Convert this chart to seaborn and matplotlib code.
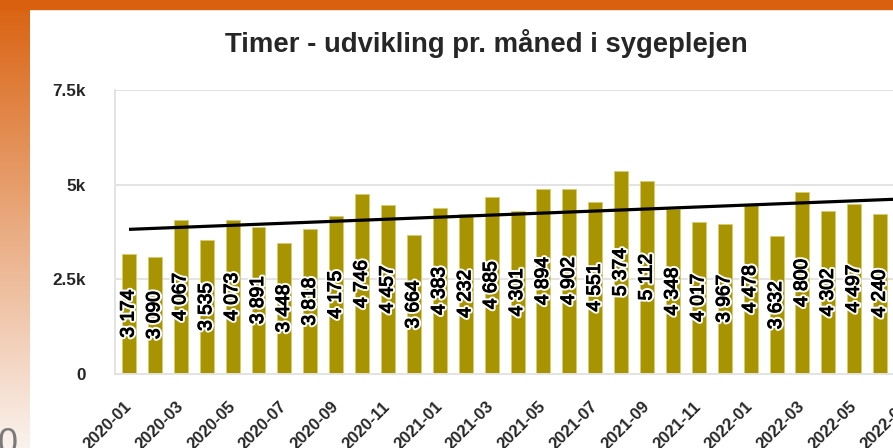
import numpy as np
import pandas as pd
import matplotlib
matplotlib.use("Agg")
import matplotlib.pyplot as plt
import matplotlib.patheffects as pe
from matplotlib.patches import Rectangle
import seaborn as sns

# monthly hours (2020-01 .. 2022-06)
months = pd.period_range("2020-01", "2022-07", freq="M").strftime("%Y-%m").tolist()
values = [3174, 3090, 4067, 3535, 4073, 3891, 3448, 3818, 4175, 4746,
          4457, 3664, 4383, 4232, 4685, 4301, 4894, 4902, 4551, 5374,
          5112, 4348, 4017, 3967, 4478, 3632, 4800, 4302, 4497, 4240]
trend_x = [0, 30]
trend_y = [3820, 4630]
yticks = [0, 2500, 5000, 7500]
ytick_labels = ["0", "2.5k", "5k", "7.5k"]

df = pd.DataFrame({"month": months[:len(values)], "hours": values})

sns.set_theme(style="white")
plt.rcParams["font.family"] = ["Liberation Sans", "DejaVu Sans"]

W, H = 893, 448
fig = plt.figure(figsize=(W / 100, H / 100), dpi=100)
fig.patch.set_facecolor("white")

# orange frame bits from the slide behind the chart
grad = fig.add_axes([0, 0, 30 / W, 1])
top = np.array([217, 97, 15]) / 255
bot = np.array([250, 242, 238]) / 255
t = np.linspace(0, 1, 256)[:, None, None]
grad.imshow(top + (bot - top) * t, aspect="auto", extent=[0, 1, 0, 1])
grad.axis("off")
fig.patches.append(Rectangle((0, 1 - 9 / H), 1, 9 / H, transform=fig.transFigure,
                             color="#D9600E", zorder=5))
fig.text(-2 / W, -6 / H, "0", fontsize=26, color="#7a7a7a", fontweight="light",
         ha="left", va="baseline")

ax = fig.add_axes([115 / W, 74.5 / H, 804 / W, 283 / H])
sns.barplot(data=df, x="month", y="hours", order=months, color="#A89400",
            saturation=1, width=0.54, edgecolor="#d8cc70", linewidth=0.6, ax=ax)

label_fx = [pe.Stroke(linewidth=3.6, foreground="white"),
            pe.Stroke(linewidth=0.8, foreground="black"),
            pe.Normal()]
for i, v in enumerate(values):
    ax.text(i, v / 2, f"{v:,}".replace(",", " "), rotation=90, ha="center", va="center",
            fontsize=13.8, color="black", path_effects=label_fx)

ax.plot(trend_x, trend_y, color="black", lw=2.3, solid_capstyle="butt")

ax.set_xlim(-0.54, 30.5)
ax.set_ylim(0, 7500)
ax.set_yticks(yticks)
ax.set_yticklabels(ytick_labels, fontsize=12.3, fontweight="bold")
ax.set_xticks(range(0, len(months), 2))
ax.set_xticklabels(months[::2], rotation=45, ha="right", va="center",
                   rotation_mode="anchor", fontsize=12, fontweight="bold")
ax.tick_params(axis="y", length=0, pad=21)
ax.tick_params(axis="x", length=0, pad=22)
ax.set_xlabel("")
ax.set_ylabel("")
ax.yaxis.grid(True, color="#e3e3e3", lw=1.4)
ax.set_axisbelow(True)
for s in ["top", "right"]:
    ax.spines[s].set_visible(False)
for s in ["left", "bottom"]:
    ax.spines[s].set_color("#e3e3e3")
    ax.spines[s].set_linewidth(1.4)

fig.text(486 / W, 1 - 52 / H, "Timer - udvikling pr. måned i sygeplejen",
         ha="center", va="baseline", fontsize=19.8, fontweight="bold")

fig.savefig("out.png", dpi=100)
